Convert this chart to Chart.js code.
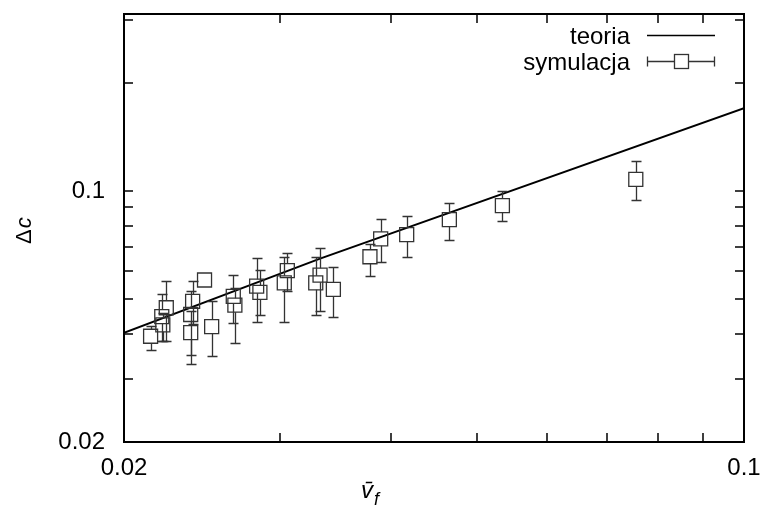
<!DOCTYPE html>
<html>
<head>
<meta charset="utf-8">
<script src="https://cdn.jsdelivr.net/npm/chart.js@4.4.1/dist/chart.umd.min.js"></script>
<style>
html,body{margin:0;padding:0;background:#fff;}
#wrap{width:760px;height:519px;}
</style>
</head>
<body>
<div id="wrap"><canvas id="c" width="760" height="519"></canvas></div>
<script>
// ---- data ----
const theoryX = [0.02, 0.03327, 0.1];
const theoryY = [0.0403, 0.0648, 0.1701];

const simX   = [0.02143,0.02206,0.02212,0.02232,0.02390,0.02378,0.02378,0.02465,0.02511,0.02656,0.02667,0.02822,0.02846,0.03056,0.03032,0.03327,0.03290,0.03444,0.03787,0.03894,0.04166,0.04654,0.05341,0.07551];
const simY   = [0.0394,0.0447,0.0424,0.0473,0.0493,0.0453,0.0403,0.0565,0.0419,0.0509,0.0481,0.0543,0.0522,0.0600,0.0555,0.0583,0.0555,0.0532,0.0656,0.0736,0.0756,0.0832,0.0910,0.1077];
const simYHi = [0.0420,0.0517,0.0456,0.0561,0.0561,0.0526,0.0462,0.0580,0.0493,0.0583,0.0538,0.0651,0.0602,0.0672,0.0653,0.0694,0.0656,0.0615,0.0714,0.0838,0.0854,0.0926,0.0997,0.1209];
const simYLo = [0.0360,0.0381,0.0381,0.0381,0.0425,0.0349,0.0329,0.0550,0.0347,0.0428,0.0378,0.0432,0.0451,0.0525,0.0431,0.0463,0.0451,0.0446,0.0579,0.0633,0.0656,0.0732,0.0823,0.0942];

const xTickValues = [0.02,0.03,0.04,0.05,0.06,0.07,0.08,0.09,0.1];
const yTickValues = [0.02,0.03,0.04,0.05,0.06,0.07,0.08,0.09,0.1,0.2,0.3];
const labeledTicks = [0.02, 0.1];
const legendLabels = ['teoria', 'symulacja'];
const xTitle = 'v\u0304';
const xTitleSub = 'f';
const yTitleA = '\u0394';
const yTitleB = 'c';

const FONT = "'Liberation Sans', Arial, Helvetica, sans-serif";

const errPlugin = {
  id: 'errbars',
  afterDatasetsDraw(chart) {
    const {ctx, scales: {x, y}} = chart;
    ctx.save();
    ctx.strokeStyle = '#333';
    ctx.lineWidth = 1.3;
    const half = 7, cap = 5;
    simX.forEach((vx, i) => {
      const px = Math.round(x.getPixelForValue(vx)) + 0.5;
      const py = y.getPixelForValue(simY[i]);
      const pt = Math.round(y.getPixelForValue(simYHi[i])) + 0.5;
      const pb = Math.round(y.getPixelForValue(simYLo[i])) + 0.5;
      ctx.beginPath();
      if (pt < py - half) {
        ctx.moveTo(px, py - half); ctx.lineTo(px, pt);
        ctx.moveTo(px - cap, pt); ctx.lineTo(px + cap, pt);
      }
      if (pb > py + half) {
        ctx.moveTo(px, py + half); ctx.lineTo(px, pb);
        ctx.moveTo(px - cap, pb); ctx.lineTo(px + cap, pb);
      }
      ctx.stroke();
    });
    ctx.restore();
  }
};

const framePlugin = {
  id: 'frame',
  afterDraw(chart) {
    const {ctx, chartArea: {left, right, top, bottom}, scales: {x, y}} = chart;
    ctx.save();
    ctx.strokeStyle = '#000';
    ctx.lineWidth = 2;
    ctx.strokeRect(left, top, right - left, bottom - top);
    ctx.lineWidth = 1.5;
    const tl = 9;
    ctx.beginPath();
    xTickValues.forEach(v => {
      const p = Math.round(x.getPixelForValue(v));
      ctx.moveTo(p, bottom); ctx.lineTo(p, bottom - tl);
      ctx.moveTo(p, top); ctx.lineTo(p, top + tl);
    });
    yTickValues.forEach(v => {
      const p = Math.round(y.getPixelForValue(v));
      ctx.moveTo(left, p); ctx.lineTo(left + tl, p);
      ctx.moveTo(right, p); ctx.lineTo(right - tl, p);
    });
    ctx.stroke();

    // legend
    ctx.fillStyle = '#000';
    ctx.font = '24px ' + FONT;
    ctx.textAlign = 'right';
    ctx.textBaseline = 'alphabetic';
    ctx.fillText(legendLabels[0], 630, 44);
    ctx.fillText(legendLabels[1], 630, 70);
    ctx.lineWidth = 1.5;
    ctx.beginPath();
    ctx.moveTo(647, 35.5); ctx.lineTo(715, 35.5);
    ctx.stroke();
    ctx.strokeStyle = '#333';
    ctx.lineWidth = 1.3;
    ctx.beginPath();
    const ly = 61.5;
    ctx.moveTo(647, ly); ctx.lineTo(674, ly);
    ctx.moveTo(688, ly); ctx.lineTo(715, ly);
    ctx.moveTo(647.5, ly - 5); ctx.lineTo(647.5, ly + 5);
    ctx.moveTo(714.5, ly - 5); ctx.lineTo(714.5, ly + 5);
    ctx.stroke();
    ctx.strokeRect(674.5, ly - 7, 14, 14);

    // axis titles
    ctx.fillStyle = '#000';
    ctx.textAlign = 'left';
    ctx.textBaseline = 'alphabetic';
    ctx.font = 'italic 24px ' + FONT;
    ctx.fillText(xTitle, 361, 498);
    ctx.font = 'italic 18px ' + FONT;
    ctx.fillText(xTitleSub, 374, 505);

    ctx.save();
    ctx.translate(31, 244);
    ctx.rotate(-Math.PI / 2);
    ctx.font = '22px ' + FONT;
    ctx.fillText(yTitleA, 0, 0);
    const w = ctx.measureText(yTitleA).width;
    ctx.font = 'italic 22px ' + FONT;
    ctx.fillText(yTitleB, w + 1, 0);
    ctx.restore();
    ctx.restore();
  }
};

const tickFont = {family: FONT, size: 24};

new Chart(document.getElementById('c'), {
  type: 'scatter',
  data: {
    datasets: [
      {
        label: legendLabels[0],
        data: theoryX.map((v, i) => ({x: v, y: theoryY[i]})),
        showLine: true,
        borderColor: '#000',
        borderWidth: 2,
        pointRadius: 0,
        fill: false,
        tension: 0,
        order: 2
      },
      {
        label: legendLabels[1],
        data: simX.map((v, i) => ({x: v, y: simY[i]})),
        showLine: false,
        pointStyle: 'rect',
        pointRadius: 9.9,
        pointHoverRadius: 9.9,
        borderColor: '#333',
        borderWidth: 1.3,
        backgroundColor: 'rgba(0,0,0,0)',
        order: 1
      }
    ]
  },
  options: {
    responsive: false,
    animation: false,
    devicePixelRatio: 1,
    layout: {padding: {left: 0, right: 16, top: 14, bottom: 0}},
    plugins: {legend: {display: false}, tooltip: {enabled: false}},
    events: [],
    scales: {
      x: {
        type: 'logarithmic',
        min: 0.02,
        max: 0.1,
        afterBuildTicks: s => { s.ticks = xTickValues.map(v => ({value: v})); },
        afterFit: s => { s.height = 77; s.paddingLeft = 0; s.paddingRight = 0; },
        grid: {display: false},
        border: {display: false},
        ticks: {
          autoSkip: false, maxRotation: 0, minRotation: 0,
          padding: 4, color: '#000', font: tickFont,
          callback: v => labeledTicks.includes(v) ? String(v) : ''
        }
      },
      y: {
        type: 'logarithmic',
        min: 0.02,
        max: 0.311,
        afterBuildTicks: s => { s.ticks = yTickValues.map(v => ({value: v})); },
        afterFit: s => { s.width = 124; s.paddingTop = 0; s.paddingBottom = 0; },
        grid: {display: false},
        border: {display: false},
        ticks: {
          autoSkip: false,
          padding: 11, color: '#000', font: tickFont,
          callback: v => labeledTicks.includes(v) ? String(v) : ''
        }
      }
    }
  },
  plugins: [errPlugin, framePlugin]
});
</script>
</body>
</html>
